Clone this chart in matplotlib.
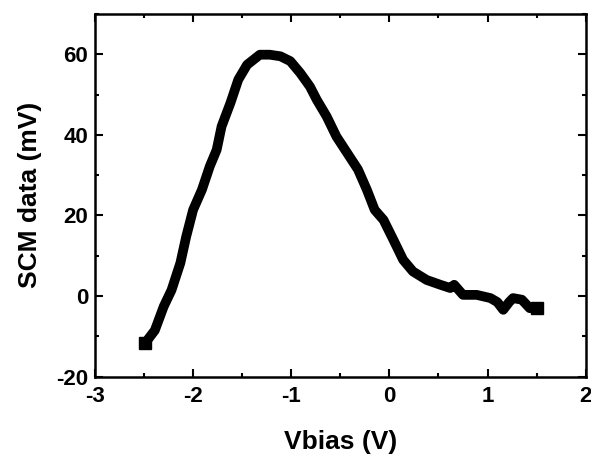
import matplotlib
matplotlib.use("Agg")
import matplotlib.pyplot as plt
from matplotlib.ticker import MultipleLocator

vbias = [-2.49, -2.39, -2.30, -2.22, -2.13, -2.07, -2.00, -1.91, -1.83, -1.76,
         -1.71, -1.62, -1.54, -1.45, -1.32, -1.22, -1.11, -1.01, -0.91, -0.81,
         -0.74, -0.64, -0.54, -0.43, -0.32, -0.23, -0.15, -0.06, 0.04, 0.14,
         0.24, 0.38, 0.52, 0.62, 0.66, 0.75, 0.89, 1.03, 1.10, 1.16, 1.22, 1.26,
         1.35, 1.43, 1.50]
scm = [-11.7, -8.5, -2.6, 1.5, 8.2, 14.8, 21.4, 26.4, 32.2, 36.3,
       42.1, 47.9, 53.7, 57.4, 59.9, 59.9, 59.5, 58.3, 55.4, 52.0,
       48.7, 44.6, 39.6, 35.5, 31.4, 26.4, 21.4, 18.9, 14.0, 9.0,
       6.1, 4.0, 2.8, 2.0, 2.8, 0.3, 0.3, -0.5, -1.5, -3.4, -1.5, -0.5,
       -0.9, -3.0, -3.0]

plt.rcParams['font.family'] = ['Liberation Sans', 'DejaVu Sans']
plt.rcParams['font.weight'] = 'bold'
plt.rcParams['axes.unicode_minus'] = False

fig = plt.figure(figsize=(5.91, 4.54), dpi=100)
ax = fig.add_axes([0.1607, 0.1703, 0.9910 - 0.1607, 0.9692 - 0.1703])

ax.plot(vbias, scm, color='black', lw=7, marker='s', ms=9, markevery=[0, -1],
        solid_joinstyle='round', solid_capstyle='round')

ax.set_xlim(-3, 2)
ax.set_ylim(-20, 70)
ax.xaxis.set_major_locator(MultipleLocator(1))
ax.xaxis.set_minor_locator(MultipleLocator(0.5))
ax.yaxis.set_major_locator(MultipleLocator(20))
ax.yaxis.set_minor_locator(MultipleLocator(10))

ax.tick_params(which='both', direction='in', top=True, right=True,
               labelsize=16, width=1.5, pad=5)
ax.tick_params(axis='x', which='major', pad=7)
ax.tick_params(which='major', length=6)
ax.tick_params(which='minor', length=3)
for lab in ax.get_xticklabels() + ax.get_yticklabels():
    lab.set_fontweight('bold')
for s in ax.spines.values():
    s.set_linewidth(1.8)

ax.set_xlabel('Vbias (V)', fontsize=19, fontweight='bold', labelpad=16)
ax.set_ylabel('SCM data (mV)', fontsize=19, fontweight='bold', labelpad=10)

fig.savefig('out.png', dpi=100)
